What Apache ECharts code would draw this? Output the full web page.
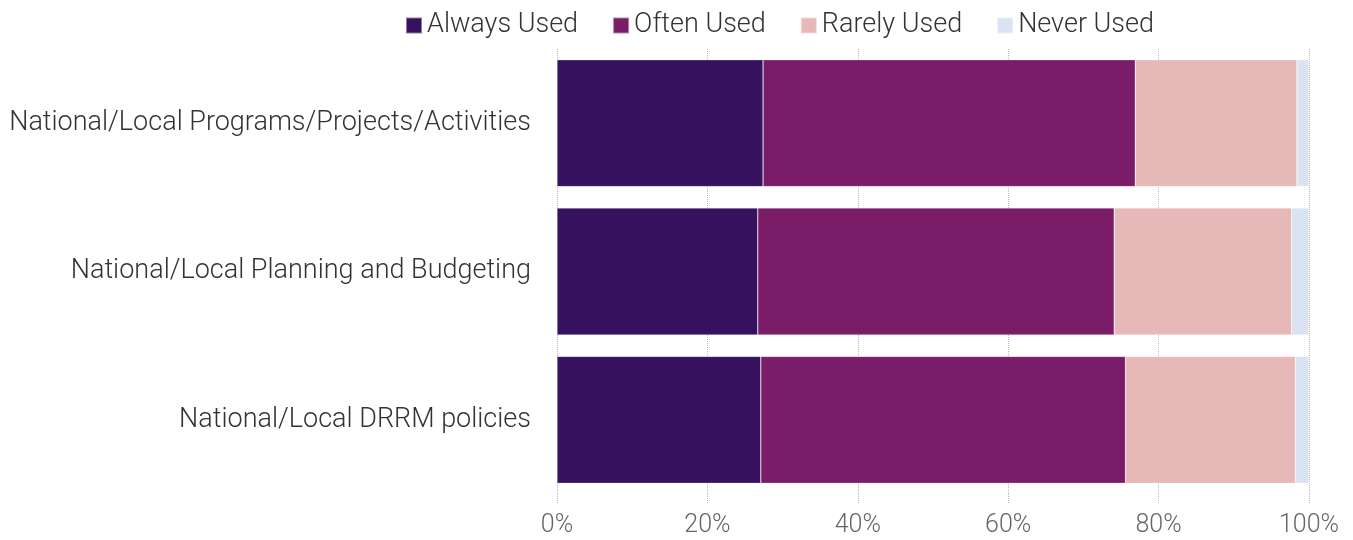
<!DOCTYPE html>
<html>
<head>
<meta charset="utf-8">
<script src="https://cdn.jsdelivr.net/npm/echarts@6/dist/echarts.min.js"></script>
<style>
  html, body { margin: 0; padding: 0; background: #fff; }
  #chart { width: 1353px; height: 540px; }
</style>
</head>
<body>
<div id="chart"></div>
<script>
// Usage of DRRM information, share of respondents (%)
const categories = [
  'National/Local DRRM policies',
  'National/Local Planning and Budgeting',
  'National/Local Programs/Projects/Activities'
];
const alwaysUsed = [27.1, 26.7, 27.4];
const oftenUsed  = [48.5, 47.4, 49.5];
const rarelyUsed = [22.6, 23.6, 21.5];
const neverUsed  = [1.8, 2.3, 1.6];
const seriesNames = ['Always Used', 'Often Used', 'Rarely Used', 'Never Used'];
const seriesColors = ['#35115e', '#7a1c68', '#e6b8b7', '#dae3f3'];
const xTicks = [0, 20, 40, 60, 80, 100];

const FONT = 'Roboto, "Liberation Sans", sans-serif';
const values = [alwaysUsed, oftenUsed, rarelyUsed, neverUsed];

const chart = echarts.init(document.getElementById('chart'), null, { renderer: 'canvas' });
chart.setOption({
  animation: false,
  textStyle: { fontFamily: FONT },
  legend: {
    top: 7,
    left: 400,
    itemWidth: 16,
    itemHeight: 16,
    itemGap: 34,
    icon: 'rect',
    textStyle: { fontSize: 27, fontWeight: 300, color: '#333', fontFamily: FONT },
    data: seriesNames
  },
  grid: { left: 557, right: 44, top: 49, bottom: 46, containLabel: false },
  xAxis: {
    type: 'value',
    min: xTicks[0],
    max: xTicks[xTicks.length - 1],
    interval: 20,
    axisLine: { show: false },
    axisTick: { show: true, length: 10, lineStyle: { color: '#bbb', type: 'dotted', width: 1 } },
    splitLine: { show: true, lineStyle: { color: '#bbb', type: 'dotted', width: 1 } },
    axisLabel: {
      formatter: v => v + '%',
      fontSize: 25, fontWeight: 300, color: '#666', fontFamily: FONT, margin: 19
    }
  },
  yAxis: {
    type: 'category',
    data: categories,
    axisLine: { show: false },
    axisTick: { show: false },
    axisLabel: { fontSize: 27, fontWeight: 300, color: '#333', fontFamily: FONT, margin: 26 }
  },
  series: seriesNames.map((name, i) => ({
    name,
    type: 'bar',
    stack: 'total',
    barWidth: 127,
    data: values[i],
    itemStyle: { color: seriesColors[i], borderColor: 'rgba(255,255,255,0.45)', borderWidth: 0.6 }
  }))
});
</script>
</body>
</html>
